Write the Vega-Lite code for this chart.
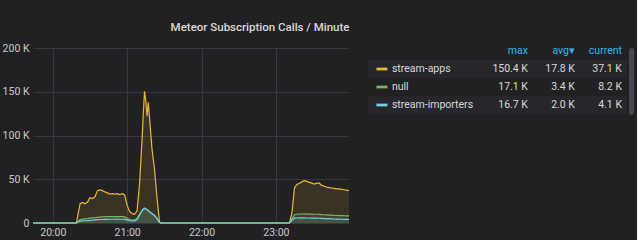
{
  "$schema": "https://vega.github.io/schema/vega-lite/v6.json",
  "background": "#212124",
  "padding": {"left": 2, "top": 21, "right": 3, "bottom": 2},
  "config": {
    "font": "Roboto",
    "view": {"stroke": null},
    "axis": {
      "labelColor": "#c8c9ca",
      "labelFontSize": 10.5,
      "gridColor": "#38383c",
      "gridWidth": 1,
      "domain": false,
      "ticks": false
    }
  },
  "title": {
    "text": "Meteor Subscription Calls / Minute",
    "color": "#d8d9da",
    "fontSize": 11.5,
    "fontWeight": 500,
    "anchor": "middle",
    "dx": -58,
    "offset": 10
  },
  "datasets": {
    "calls": [
      {"t": "2019-06-03T19:44", "stream-apps": 0, "null": 0, "stream-importers": 0},
      {"t": "2019-06-03T20:19", "stream-apps": 0, "null": 0, "stream-importers": 0},
      {"t": "2019-06-03T20:22", "stream-apps": 22000, "null": 4000, "stream-importers": 2200},
      {"t": "2019-06-03T20:24", "stream-apps": 23500, "null": 4500, "stream-importers": 2500},
      {"t": "2019-06-03T20:26", "stream-apps": 22000, "null": 4800, "stream-importers": 2600},
      {"t": "2019-06-03T20:28", "stream-apps": 24000, "null": 5000, "stream-importers": 2800},
      {"t": "2019-06-03T20:30", "stream-apps": 29000, "null": 5500, "stream-importers": 3000},
      {"t": "2019-06-03T20:32", "stream-apps": 28000, "null": 5800, "stream-importers": 3200},
      {"t": "2019-06-03T20:34", "stream-apps": 30000, "null": 6000, "stream-importers": 3500},
      {"t": "2019-06-03T20:36", "stream-apps": 37000, "null": 6500, "stream-importers": 3800},
      {"t": "2019-06-03T20:38", "stream-apps": 37800, "null": 6800, "stream-importers": 4000},
      {"t": "2019-06-03T20:40", "stream-apps": 37000, "null": 7000, "stream-importers": 4000},
      {"t": "2019-06-03T20:42", "stream-apps": 35500, "null": 7000, "stream-importers": 4200},
      {"t": "2019-06-03T20:44", "stream-apps": 34500, "null": 7200, "stream-importers": 4200},
      {"t": "2019-06-03T20:46", "stream-apps": 33000, "null": 7300, "stream-importers": 4300},
      {"t": "2019-06-03T20:48", "stream-apps": 33500, "null": 7300, "stream-importers": 4300},
      {"t": "2019-06-03T20:50", "stream-apps": 33000, "null": 7200, "stream-importers": 4300},
      {"t": "2019-06-03T20:52", "stream-apps": 33500, "null": 7400, "stream-importers": 4400},
      {"t": "2019-06-03T20:54", "stream-apps": 32500, "null": 7300, "stream-importers": 4300},
      {"t": "2019-06-03T20:56", "stream-apps": 33500, "null": 7200, "stream-importers": 4300},
      {"t": "2019-06-03T20:58", "stream-apps": 32000, "null": 7000, "stream-importers": 4200},
      {"t": "2019-06-03T21:00", "stream-apps": 20000, "null": 5500, "stream-importers": 3500},
      {"t": "2019-06-03T21:02", "stream-apps": 13000, "null": 4000, "stream-importers": 2800},
      {"t": "2019-06-03T21:04", "stream-apps": 11000, "null": 3500, "stream-importers": 2500},
      {"t": "2019-06-03T21:06", "stream-apps": 10000, "null": 3300, "stream-importers": 2400},
      {"t": "2019-06-03T21:08", "stream-apps": 14000, "null": 5000, "stream-importers": 4000},
      {"t": "2019-06-03T21:10", "stream-apps": 45000, "null": 10000, "stream-importers": 9000},
      {"t": "2019-06-03T21:12", "stream-apps": 95000, "null": 14500, "stream-importers": 14000},
      {"t": "2019-06-03T21:13", "stream-apps": 125000, "null": 16000, "stream-importers": 15500},
      {"t": "2019-06-03T21:14", "stream-apps": 150400, "null": 17100, "stream-importers": 16700},
      {"t": "2019-06-03T21:15", "stream-apps": 140000, "null": 16500, "stream-importers": 16000},
      {"t": "2019-06-03T21:16", "stream-apps": 122000, "null": 15500, "stream-importers": 15000},
      {"t": "2019-06-03T21:17", "stream-apps": 138000, "null": 14500, "stream-importers": 14000},
      {"t": "2019-06-03T21:18", "stream-apps": 121000, "null": 13000, "stream-importers": 12500},
      {"t": "2019-06-03T21:20", "stream-apps": 85000, "null": 11000, "stream-importers": 10500},
      {"t": "2019-06-03T21:22", "stream-apps": 62000, "null": 9000, "stream-importers": 8500},
      {"t": "2019-06-03T21:24", "stream-apps": 30000, "null": 5500, "stream-importers": 5000},
      {"t": "2019-06-03T21:26", "stream-apps": 2000, "null": 800, "stream-importers": 700},
      {"t": "2019-06-03T21:27", "stream-apps": 0, "null": 0, "stream-importers": 0},
      {"t": "2019-06-03T23:11", "stream-apps": 0, "null": 0, "stream-importers": 0},
      {"t": "2019-06-03T23:13", "stream-apps": 12000, "null": 5000, "stream-importers": 3000},
      {"t": "2019-06-03T23:15", "stream-apps": 40000, "null": 9500, "stream-importers": 5500},
      {"t": "2019-06-03T23:17", "stream-apps": 44000, "null": 10000, "stream-importers": 5700},
      {"t": "2019-06-03T23:19", "stream-apps": 45500, "null": 10300, "stream-importers": 5800},
      {"t": "2019-06-03T23:21", "stream-apps": 47000, "null": 10300, "stream-importers": 5800},
      {"t": "2019-06-03T23:23", "stream-apps": 48500, "null": 10400, "stream-importers": 5800},
      {"t": "2019-06-03T23:25", "stream-apps": 47500, "null": 10300, "stream-importers": 5700},
      {"t": "2019-06-03T23:27", "stream-apps": 46500, "null": 10200, "stream-importers": 5700},
      {"t": "2019-06-03T23:29", "stream-apps": 45500, "null": 10100, "stream-importers": 5600},
      {"t": "2019-06-03T23:31", "stream-apps": 44500, "null": 10000, "stream-importers": 5600},
      {"t": "2019-06-03T23:33", "stream-apps": 45500, "null": 10000, "stream-importers": 5500},
      {"t": "2019-06-03T23:35", "stream-apps": 45500, "null": 9800, "stream-importers": 5400},
      {"t": "2019-06-03T23:37", "stream-apps": 43000, "null": 9600, "stream-importers": 5300},
      {"t": "2019-06-03T23:39", "stream-apps": 42000, "null": 9400, "stream-importers": 5100},
      {"t": "2019-06-03T23:41", "stream-apps": 41000, "null": 9200, "stream-importers": 5000},
      {"t": "2019-06-03T23:43", "stream-apps": 40500, "null": 9000, "stream-importers": 4900},
      {"t": "2019-06-03T23:45", "stream-apps": 40000, "null": 8900, "stream-importers": 4800},
      {"t": "2019-06-03T23:47", "stream-apps": 39500, "null": 8700, "stream-importers": 4600},
      {"t": "2019-06-03T23:49", "stream-apps": 39000, "null": 8600, "stream-importers": 4500},
      {"t": "2019-06-03T23:51", "stream-apps": 39000, "null": 8500, "stream-importers": 4400},
      {"t": "2019-06-03T23:53", "stream-apps": 38500, "null": 8400, "stream-importers": 4300},
      {"t": "2019-06-03T23:55", "stream-apps": 38000, "null": 8300, "stream-importers": 4200},
      {"t": "2019-06-03T23:57", "stream-apps": 37500, "null": 8200, "stream-importers": 4100},
      {"t": "2019-06-03T23:59", "stream-apps": 37100, "null": 8200, "stream-importers": 4100}
    ],
    "stats": [
      {"row": "header", "max": "max", "avg": "avg▾", "current": "current"},
      {"row": "stream-apps", "max": "150.4 K", "avg": "17.8 K", "current": "37.1 K"},
      {"row": "null", "max": "17.1 K", "avg": "3.4 K", "current": "8.2 K"},
      {"row": "stream-importers", "max": "16.7 K", "avg": "2.0 K", "current": "4.1 K"}
    ]
  },
  "spacing": 16,
  "hconcat": [
    {
      "width": 316,
      "height": 175,
      "data": {"name": "calls"},
      "transform": [
        {"fold": ["stream-apps", "null", "stream-importers"], "as": ["series", "calls"]}
      ],
      "encoding": {
        "x": {
          "field": "t",
          "type": "temporal",
          "title": null,
          "scale": {"nice": false},
          "axis": {"format": "%H:%M", "tickCount": 4, "labelPadding": 4, "labelFlush": false}
        },
        "y": {
          "field": "calls",
          "type": "quantitative",
          "title": null,
          "stack": null,
          "scale": {"domain": [0, 200000]},
          "axis": {
            "values": [0, 50000, 100000, 150000, 200000],
            "labelExpr": "datum.value == 0 ? '0' : (datum.value / 1000) + ' K'",
            "labelPadding": 4
          }
        },
        "color": {
          "field": "series",
          "type": "nominal",
          "scale": {
            "domain": ["stream-apps", "null", "stream-importers"],
            "range": ["#eab839", "#7eb26d", "#6ed0e0"]
          },
          "legend": null
        }
      },
      "layer": [
        {"mark": {"type": "area", "opacity": 0.12}},
        {"mark": {"type": "line", "strokeWidth": 1.2}}
      ]
    },
    {
      "spacing": 2,
      "hconcat": [
        {
          "width": 259,
          "height": 72,
          "data": {"name": "stats"},
          "layer": [
            {
              "transform": [{"filter": "datum.row == 'stream-apps' || datum.row == 'stream-importers'"}],
              "mark": {"type": "rect", "color": "#27272b", "yOffset": -6},
              "encoding": {
                "x": {"value": 0},
                "x2": {"value": "width"},
                "y": {
                  "field": "row",
                  "type": "nominal",
                  "title": null,
                  "scale": {
                    "domain": ["header", "stream-apps", "null", "stream-importers"],
                    "paddingInner": 0,
                    "paddingOuter": 0
                  },
                  "axis": null
                }
              }
            },
            {
              "transform": [{"filter": "datum.row != 'header'"}],
              "mark": {
                "type": "point",
                "shape": "M-1,-0.25H1V0.25H-1Z",
                "filled": true,
                "opacity": 1,
                "size": 121,
                "xOffset": -5,
                "yOffset": -6
              },
              "encoding": {
                "x": {
                  "datum": "name",
                  "type": "nominal",
                  "title": null,
                  "scale": {
                    "type": "point",
                    "domain": ["name", "gap1", "gap2", "max", "avg", "current"],
                    "padding": 0.255,
                    "align": 0.79
                  },
                  "axis": null
                },
                "y": {"field": "row", "type": "nominal"},
                "color": {
                  "field": "row",
                  "type": "nominal",
                  "scale": {
                    "domain": ["stream-apps", "null", "stream-importers"],
                    "range": ["#eab839", "#7eb26d", "#6ed0e0"]
                  },
                  "legend": null
                }
              }
            },
            {
              "transform": [{"filter": "datum.row != 'header'"}],
              "mark": {"type": "text", "align": "left", "dx": 5, "yOffset": -6, "fontSize": 10.5, "color": "#d8d9da"},
              "encoding": {
                "x": {"datum": "name", "type": "nominal"},
                "y": {"field": "row", "type": "nominal"},
                "text": {"field": "row"}
              }
            },
            {
              "transform": [{"fold": ["max", "avg", "current"], "as": ["col", "txt"]}],
              "mark": {"type": "text", "align": "right", "yOffset": -6, "fontSize": 10.5},
              "encoding": {
                "x": {"field": "col", "type": "nominal"},
                "y": {"field": "row", "type": "nominal"},
                "text": {"field": "txt"},
                "color": {
                  "condition": {"test": "datum.row == 'header'", "value": "#33b5e5"},
                  "value": "#d8d9da"
                }
              }
            }
          ]
        },
        {
          "width": 5,
          "height": 67,
          "data": {"values": [{}]},
          "mark": {"type": "text", "text": ""},
          "encoding": {},
          "view": {"fill": "#47474f", "cornerRadius": 2.5, "stroke": null}
        }
      ]
    }
  ]
}
